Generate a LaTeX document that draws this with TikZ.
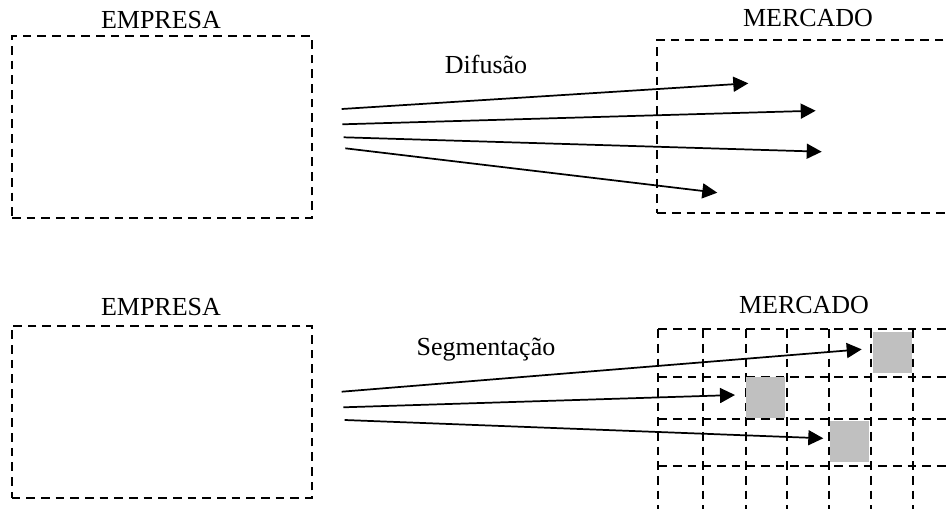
\documentclass[tikz,border=0pt]{standalone}
\usepackage{fontspec}
\setmainfont{Liberation Serif}
\usetikzlibrary{arrows.meta}
\definecolor{cellgray}{HTML}{C0C0C0}
\begin{document}
\begin{tikzpicture}[x=0.75pt,y=-0.75pt,
  frame/.style={draw, line width=1.4pt, dash pattern=on 6.5pt off 4.5pt, inner sep=0pt},
  gridline/.style={line width=1.4pt, dash pattern=on 6.5pt off 4.5pt},
  flow/.style={line width=1.3pt, -{Triangle[length=11.25pt,width=11.25pt]}},
  caption/.style={anchor=base, inner sep=0pt, font=\fontsize{19.5}{23}\selectfont},
  cell/.style={fill=cellgray, inner sep=0pt, minimum width=29.25pt, minimum height=30.75pt}]
  \useasboundingbox (0,0) rectangle (949,508);
  \clip (0,0) rectangle (949,508);

  % --- upper scheme: diffusion ---
  \node[caption] (empTitleA) at (161,28.3) {EMPRESA};
  \node[caption] (merTitleA) at (808,26.7) {MERCADO};
  \node[caption] (difLabel) at (486,73.3) {Difusão};
  \node[frame, minimum width=225pt, minimum height=136.5pt] (empA) at (161.85,127) {};
  \node[frame, minimum width=257pt, minimum height=129.5pt] (merA) at (828.65,126.35) {};

  \coordinate (da1) at (341.7,109);   \coordinate (dz1) at (748.3,83.3);
  \coordinate (da2) at (342.3,124.3); \coordinate (dz2) at (815.7,110.7);
  \coordinate (da3) at (343.7,137.3); \coordinate (dz3) at (821.7,151.7);
  \coordinate (da4) at (345.3,148.3); \coordinate (dz4) at (717.3,192.7);
  \foreach \i in {1,...,4} \draw[flow] (da\i) -- (dz\i);

  % --- lower scheme: segmentation ---
  \node[caption] (empTitleB) at (161,315) {EMPRESA};
  \node[caption] (merTitleB) at (804,313.3) {MERCADO};
  \node[caption] (segLabel) at (486,355) {Segmentação};
  \node[frame, minimum width=225pt, minimum height=129.45pt] (empB) at (161.7,412) {};

  % market grid
  \foreach \gx in {658.3,702.7,746,786.7,829,870.7,912.7}
    \draw[gridline] (\gx,329.3) -- (\gx,520);
  \foreach \gy in {329.3,376.7,419.3,465.7}
    \draw[gridline] (658.3,\gy) -- (960,\gy);

  % target segments
  \node[cell] (segA) at (892.3,352.2) {};
  \node[cell] (segB) at (765.5,397) {};
  \node[cell] (segC) at (849.5,441.8) {};

  \coordinate (sa1) at (341.7,391.7); \coordinate (sz1) at (861.7,349.3);
  \coordinate (sa2) at (343.3,407.3); \coordinate (sz2) at (735,395);
  \coordinate (sa3) at (344.7,420);   \coordinate (sz3) at (823.3,438.3);
  \foreach \i in {1,2,3} \draw[flow] (sa\i) -- (sz\i);
\end{tikzpicture}
\end{document}
